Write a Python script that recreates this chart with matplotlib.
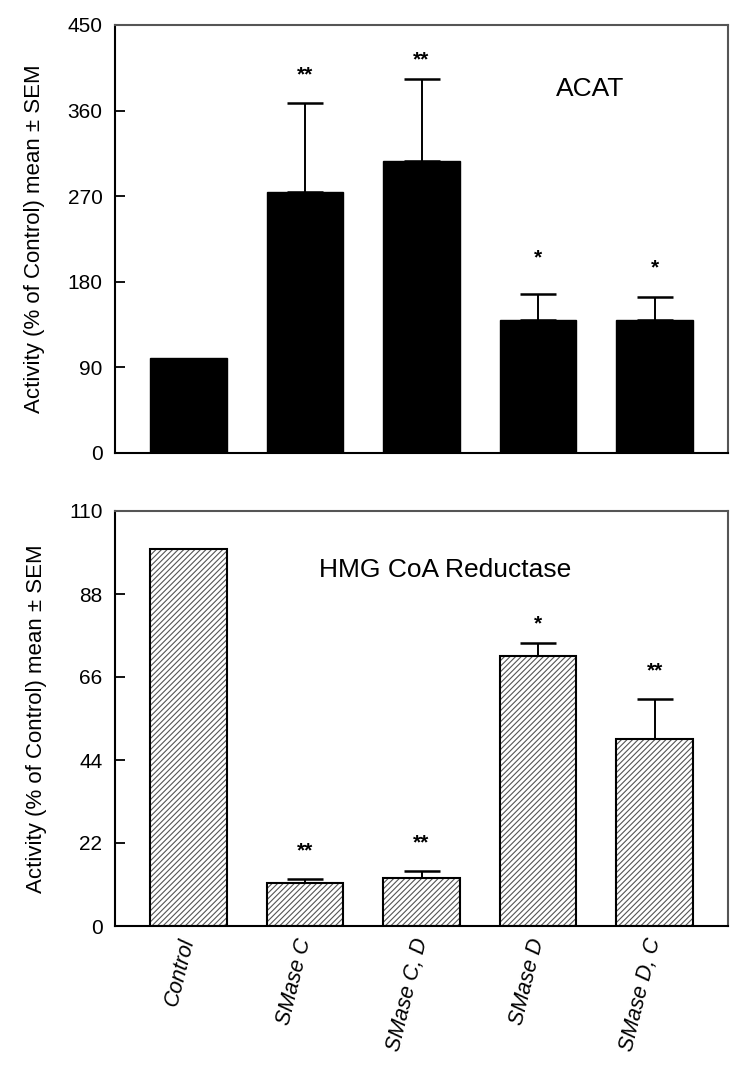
import matplotlib
matplotlib.use("Agg")
import matplotlib.pyplot as plt
import numpy as np

plt.rcParams['font.family'] = ['Liberation Sans', 'DejaVu Sans']
plt.rcParams['hatch.linewidth'] = 0.8

groups = ['Control', 'SMase C', 'SMase C, D', 'SMase D', 'SMase D, C']

# ACAT
acat_mean = [100, 274, 307, 140, 140]
acat_sem = [0, 94, 86, 27, 24]
acat_sig = ['', '**', '**', '*', '*']

# HMG CoA Reductase
hmg_mean = [100, 11.4, 12.7, 71.6, 49.6]
hmg_sem = [0, 1.1, 1.9, 3.4, 10.6]
hmg_sig = ['', '**', '**', '*', '**']

x = np.arange(len(groups))
fig = plt.figure(figsize=(7.5, 10.73), dpi=100)
ax1 = fig.add_axes([115/750, 1-453/1073, 613/750, 428/1073])
ax2 = fig.add_axes([115/750, 1-926/1073, 613/750, 415/1073])

ylab = 'Activity (% of Control) mean \u00b1 SEM'

def panel(ax, mean, sem, sig, ymax, step, title, tx, ty, hatched, offs):
    if hatched:
        ax.bar(x, mean, width=0.66, color='white', edgecolor='#555555',
               linewidth=0, hatch='//////', zorder=2)
        # black outline on top of gray hatch
        ax.bar(x, mean, width=0.66, fill=False, edgecolor='black', linewidth=1.5, zorder=3)
    else:
        ax.bar(x, mean, width=0.66, color='black', edgecolor='black', zorder=2)
    for i in range(len(x)):
        if sem[i] > 0:
            ax.errorbar(x[i], mean[i], yerr=[[0], [sem[i]]], fmt='none',
                        ecolor='black', elinewidth=1.4, capsize=13, capthick=1.8, zorder=1)
        if sig[i]:
            ax.annotate(sig[i], (x[i], mean[i] + sem[i]), xytext=(0, offs[i]),
                        textcoords='offset points', ha='center', va='center',
                        fontsize=15, fontweight='bold')
    ax.set_xlim(-0.63, 4.63)
    ax.set_ylim(0, ymax)
    ax.set_yticks(np.arange(0, ymax + 1, step))
    ax.tick_params(axis='y', direction='in', length=7, width=1.3, labelsize=15, pad=9)
    ax.tick_params(axis='x', length=0)
    ax.set_ylabel(ylab, fontsize=16, labelpad=16)
    for s in ax.spines.values():
        s.set_linewidth(1.5)
    ax.spines['top'].set_color('#555555')
    ax.spines['right'].set_color('#555555')
    ax.text(tx, ty, title, transform=ax.transAxes, ha='center', va='center', fontsize=19)

panel(ax1, acat_mean, acat_sem, acat_sig, 450, 90, 'ACAT', 0.775, 0.85, False, [0, 20, 14, 26, 21])
ax1.set_xticks([])

panel(ax2, hmg_mean, hmg_sem, hmg_sig, 110, 22, 'HMG CoA Reductase', 0.538, 0.858, True, [0, 20, 20, 14, 20])
ax2.set_xticks(x)
ax2.set_xticklabels(groups, rotation=76, ha='right', va='center', rotation_mode='anchor',
                    fontsize=15.5, style='italic')
ax2.tick_params(axis='x', pad=9)

fig.savefig('out.png', dpi=100)
